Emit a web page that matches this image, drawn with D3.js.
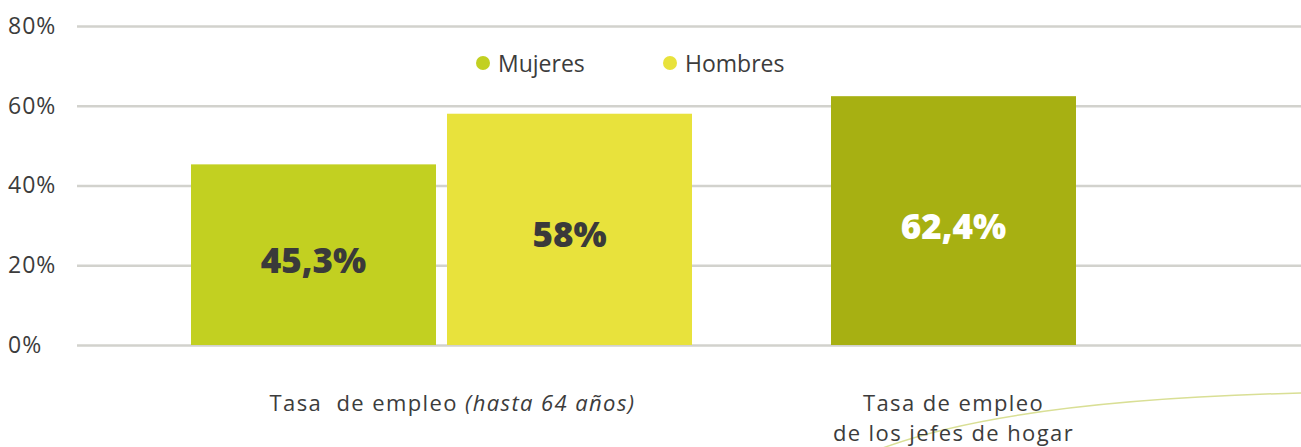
<!DOCTYPE html>
<html>
<head>
<meta charset="utf-8">
<script src="https://cdn.jsdelivr.net/npm/d3@7"></script>
<style>
  body { margin: 0; background: #fff; }
  svg { display: block; font-family: 'Open Sans', sans-serif; }
</style>
</head>
<body>
<script>
// data
const groups = ['hasta64', 'jefes'];
const groupLabels = [
  ['Tasa  de empleo ', '(hasta 64 años)'],
  ['Tasa de empleo', 'de los jefes de hogar']
];
const seriesNames = ['Mujeres', 'Hombres'];
const empleoHasta64 = [45.3, 58];
const empleoJefes = [62.4];
const valueLabels = ['45,3%', '58%', '62,4%'];
const yTicks = [0, 20, 40, 60, 80];

const width = 1301, height = 447;
const colors = { Mujeres: '#c2d021', Hombres: '#e8e23c', jefes: '#a7b012' };
const textColor = '#3c3c3c';

const svg = d3.select('body').append('svg')
  .attr('width', width)
  .attr('height', height);

const y = d3.scaleLinear().domain([0, 80]).range([345, 26]);
const x = d3.scaleBand().domain(groups).range([185.5, 1209.5]);
const xInner = d3.scaleBand().domain(seriesNames)
  .range([-250.5, 250.5]).paddingInner(0.043);

// gridlines + y labels
const yAxis = d3.axisLeft(y).tickValues(yTicks)
  .tickSize(-(width - 77)).tickFormat(d => d + '%');
const yg = svg.append('g').attr('transform', 'translate(77,0)').call(yAxis);
yg.select('.domain').remove();
yg.selectAll('.tick line').attr('stroke', '#d2d2cd').attr('stroke-width', 2.5);
yg.selectAll('.tick text')
  .attr('x', -69).attr('text-anchor', 'start')
  .attr('fill', textColor).style('font-size', '23px').style('letter-spacing', '1px')
  .style('font-family', "'Open Sans', sans-serif");

// decorative curve
svg.append('path')
  .attr('d', 'M880,449 Q1010,400 1301,393')
  .attr('fill', 'none').attr('stroke', '#d9df95').attr('stroke-width', 1.5);

// bars
const bars = [
  { x: x('hasta64') + x.bandwidth() / 2 + xInner('Mujeres'), w: xInner.bandwidth(), v: empleoHasta64[0], c: colors.Mujeres, lbl: valueLabels[0], tc: '#3a3a3a' },
  { x: x('hasta64') + x.bandwidth() / 2 + xInner('Hombres'), w: xInner.bandwidth(), v: empleoHasta64[1], c: colors.Hombres, lbl: valueLabels[1], tc: '#3a3a3a' },
  { x: x('jefes') + x.bandwidth() / 2 - xInner.bandwidth() / 2, w: xInner.bandwidth(), v: empleoJefes[0], c: colors.jefes, lbl: valueLabels[2], tc: '#ffffff' }
];

svg.selectAll('rect.bar').data(bars).enter()
  .append('rect').attr('class', 'bar')
  .attr('x', d => d.x)
  .attr('y', d => y(d.v))
  .attr('width', d => d.w)
  .attr('height', d => y(0) - y(d.v))
  .attr('fill', d => d.c);

svg.selectAll('text.val').data(bars).enter()
  .append('text').attr('class', 'val')
  .attr('x', d => d.x + d.w / 2)
  .attr('y', d => (y(d.v) + y(0)) / 2 + 18)
  .attr('text-anchor', 'middle')
  .attr('fill', d => d.tc)
  .style('font-size', '35px').style('font-weight', 800)
  .text(d => d.lbl);

// legend
const legendX = [483, 670];
seriesNames.forEach((s, i) => {
  svg.append('circle').attr('cx', legendX[i]).attr('cy', 63).attr('r', 7).attr('fill', colors[s]);
  svg.append('text').attr('x', legendX[i] + 15).attr('y', 72)
    .attr('fill', textColor).style('font-size', '23px').text(s);
});

// x labels
const l1 = svg.append('text')
  .attr('x', x('hasta64') + x.bandwidth() / 2 + 11).attr('y', 411)
  .attr('text-anchor', 'middle').attr('fill', textColor)
  .style('font-size', '22px').style('letter-spacing', '1.4px')
  .attr('xml:space', 'preserve');
l1.append('tspan').text(groupLabels[0][0]);
l1.append('tspan').style('font-style', 'italic').text(groupLabels[0][1]);

groupLabels[1].forEach((t, i) => {
  svg.append('text')
    .attr('x', x('jefes') + x.bandwidth() / 2).attr('y', 411 + i * 30)
    .attr('text-anchor', 'middle').attr('fill', textColor)
    .style('font-size', '22px').style('letter-spacing', '1.4px')
    .text(t);
});
</script>
</body>
</html>
